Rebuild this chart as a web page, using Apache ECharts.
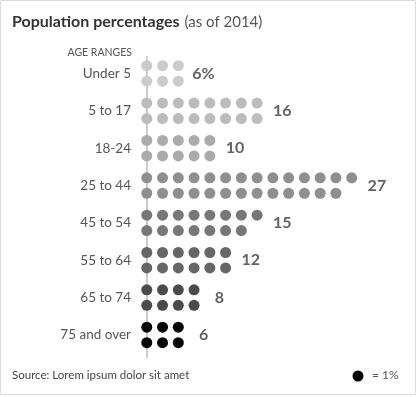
<!DOCTYPE html>
<html>
<head>
<meta charset="utf-8">
<script src="https://cdn.jsdelivr.net/npm/echarts@6/dist/echarts.min.js"></script>
<style>
html, body { margin: 0; padding: 0; background: #fff; }
#chart { width: 417px; height: 397px; }
</style>
</head>
<body>
<div id="chart"></div>
<script>
// 数据
var categories = ['Under 5', '5 to 17', '18-24', '25 to 44', '45 to 54', '55 to 64', '65 to 74', '75 and over'];
var percents = [6, 16, 10, 27, 15, 12, 8, 6];
var dotColors = ['#cbcbcb', '#bcbcbc', '#ababab', '#8f8f8f', '#777777', '#666666', '#4b4b4b', '#000000'];

var FONT = 'Lato, "Open Sans", sans-serif';

// 每个百分点一个圆点，分两行
var dots = [];
var valueLabels = [];
for (var i = 0; i < categories.length; i++) {
    var n = percents[i];
    var topCount = Math.ceil(n / 2);
    for (var j = 0; j < n; j++) {
        var row = j < topCount ? 0 : 1;
        var col = row === 0 ? j : j - topCount;
        dots.push([col, i + (row === 0 ? -0.207 : 0.207), i]);
    }
    valueLabels.push([topCount + 0.6, i, i === 0 ? n + '%' : String(n)]);
}

var myChart = echarts.init(document.getElementById('chart'));

var option = {
    animation: false,
    title: {
        left: 12,
        top: 13,
        padding: 0,
        text: '{b|Population percentages} {n|(as of 2014)}',
        textStyle: {
            rich: {
                b: { fontFamily: FONT, fontSize: 16, fontWeight: 'bold', color: '#333' },
                n: { fontFamily: FONT, fontSize: 15, fontWeight: 'normal', color: '#555' }
            }
        }
    },
    grid: {
        left: 137,
        top: 57,
        width: 273,
        height: 300
    },
    xAxis: {
        type: 'value',
        min: -0.62,
        max: 16.7,
        show: false
    },
    yAxis: {
        type: 'value',
        inverse: true,
        min: -0.44,
        max: 7.59,
        axisLine: { show: true, lineStyle: { color: '#cccccc', width: 2 } },
        axisTick: { show: false },
        splitLine: { show: false },
        axisLabel: {
            customValues: [0, 1, 2, 3, 4, 5, 6, 7],
            margin: 6,
            fontFamily: FONT,
            fontSize: 13.5,
            color: '#555',
            formatter: function (v) { return categories[Math.round(v)]; }
        }
    },
    series: [
        {
            type: 'scatter',
            data: dots,
            symbol: 'circle',
            symbolSize: 11,
            itemStyle: {
                opacity: 1,
                color: function (p) { return dotColors[p.value[2]]; }
            },
            silent: true
        },
        {
            type: 'scatter',
            data: valueLabels,
            symbolSize: 0,
            silent: true,
            label: {
                show: true,
                position: 'inside',
                fontFamily: FONT,
                fontSize: 16,
                fontWeight: 'bold',
                color: '#3a3a3a',
                formatter: function (p) { return p.value[2]; }
            }
        }
    ],
    graphic: [
        {
            type: 'rect',
            shape: { x: 0.5, y: 0.5, width: 415, height: 394 },
            style: { fill: 'none', stroke: '#dddddd', lineWidth: 1 },
            silent: true
        },
        {
            type: 'text',
            right: 285,
            top: 47,
            style: { text: 'AGE RANGES', fontFamily: FONT, fontSize: 10.5, fill: '#555', align: 'right' }
        },
        {
            type: 'text',
            left: 12,
            top: 369,
            style: { text: 'Source: Lorem ipsum dolor sit amet', fontFamily: FONT, fontSize: 11.5, fill: '#444' }
        },
        {
            type: 'circle',
            shape: { cx: 358, cy: 376, r: 5.5 },
            style: { fill: '#000' }
        },
        {
            type: 'text',
            left: 372,
            top: 369,
            style: { text: '= 1%', fontFamily: FONT, fontSize: 12, fill: '#555' }
        }
    ]
};

myChart.setOption(option);
</script>
</body>
</html>
